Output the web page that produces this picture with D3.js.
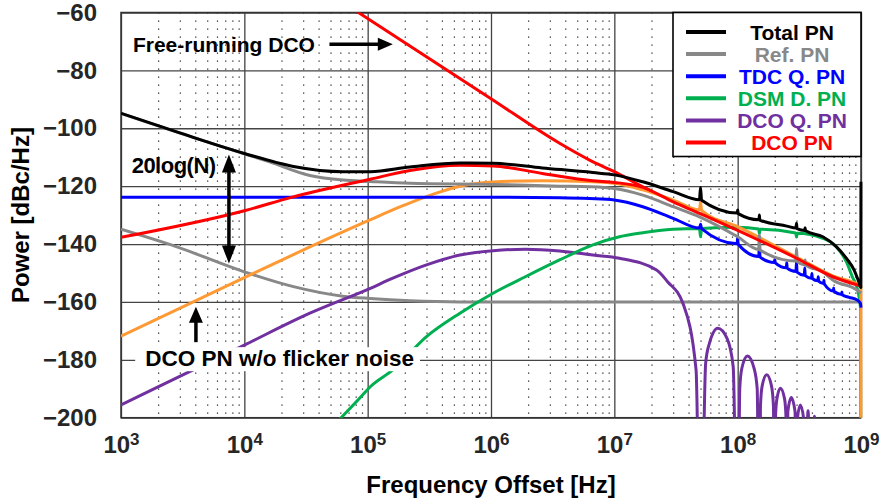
<!DOCTYPE html>
<meta charset="utf-8">
<script src="https://cdn.jsdelivr.net/npm/d3@7"></script>
<style>
  body { margin: 0; background: #fff; }
  text { font-family: "Liberation Sans", Arial, sans-serif; font-weight: bold; }
</style>
<div id="chart"></div>
<script>
// ---- data: [frequency offset Hz, dBc/Hz] ----
var totalPN = [[1e3,-94.8],[3e3,-101.6],[1e4,-108.7],[2.5e4,-113.2],[6.3e4,-115.0],[1.05e5,-115.0],
  [2.2e5,-113.4],[5.6e5,-112.0],[1.04e6,-112.1],[2.6e6,-113.7],[6.7e6,-115.3],[1e7,-116.1],[1.7e7,-118.5],[3e7,-121.9],
  [4.9e7,-124.7],[5e7,-120.5],[5.1e7,-124.9],[9.9e7,-129.3],[1e8,-128.2],[1.01e8,-129.5],[1.49e8,-131.6],[1.5e8,-130.0],
  [1.51e8,-131.7],[2.5e8,-133.8],[2.97e8,-134.5],[3e8,-132.8],[3.03e8,-134.7],[3.5e8,-135.3],[3.52e8,-134.4],[3.55e8,-135.4],
  [4.9e8,-137.5],[6.3e8,-140.9],[7.6e8,-144.9],[8.8e8,-149.0],[9.7e8,-153.6],[9.97e8,-155.0],[9.99e8,-118.5]];

var refPN = [[1e3,-94.9],[3e3,-101.7],[1e4,-108.8],[1.6e4,-111.6],[3.4e4,-116.3],[6.3e4,-117.9],[1.05e5,-118.4],
  [2.2e5,-119.0],[1.04e6,-119.4],[3.6e6,-120.0],[6.3e6,-120.2],[1e7,-120.8],[1.7e7,-123.1],[3e7,-127.1],[4.9e7,-130.6],
  [1e8,-137.5],[1.48e8,-141.9],[1.5e8,-136.9],[1.52e8,-142.1],[2.96e8,-145.9],[3e8,-141.5],[3.04e8,-146.1],[3.5e8,-147.2],
  [3.52e8,-145.5],[3.55e8,-147.3],[4.9e8,-149.6],[5.9e8,-152.4],[9.3e8,-155.9],[1e9,-157.0]];

var refRaw = [[1e3,-134.9],[2.8e3,-140.9],[1e4,-149.6],[2.5e4,-154.7],[6.3e4,-158.0],[1.05e5,-158.8],[2.2e5,-159.6],
  [5.6e5,-160.0],[1e9,-160.0]];

var tdcPN = [[1e3,-123.8],[1e6,-123.8],[3.6e6,-124.0],[6.3e6,-124.3],[1e7,-124.8],[1.7e7,-127.1],[3e7,-131.1],
  [4.9e7,-134.5],[5e7,-133.2],[5.1e7,-134.7],[9.9e7,-139.9],[1e8,-137.7],[1.01e8,-140.1],[1.48e8,-144.3],[1.5e8,-140.9],
  [1.52e8,-144.5],[1.98e8,-146.4],[2e8,-145.3],[2.02e8,-146.5],[2.48e8,-148.2],[2.5e8,-146.5],[2.52e8,-148.3],
  [2.97e8,-149.5],[3e8,-146.1],[3.03e8,-149.7],[3.47e8,-150.8],[3.5e8,-148.3],[3.53e8,-150.9],[3.97e8,-151.8],
  [4e8,-150.2],[4.03e8,-151.9],[4.47e8,-152.7],[4.5e8,-151.3],[4.53e8,-152.8],[4.97e8,-153.6],[5e8,-152.5],[5.03e8,-153.7],
  [5.97e8,-156.2],[6e8,-155.2],[6.03e8,-156.3],[6.97e8,-157.4],[7e8,-156.6],[7.03e8,-157.5],[8e8,-158.4],
  [9.3e8,-159.3],[9.9e8,-160.5],[1e9,-162.0]];

var dsmPN = [[5.5e4,-202],[8.6e4,-193.3],[1.05e5,-189.3],[1.6e5,-183.5],[3e5,-172.0],[5.6e5,-163.9],[1.04e6,-157.0],
  [1.9e6,-151.3],[3.6e6,-145.5],[6.7e6,-140.3],[1.1e7,-137.5],[1.7e7,-136.1],[3e7,-134.9],[4.9e7,-134.6],[5e7,-137.5],
  [5.1e7,-134.6],[1e8,-134.2],[1.48e8,-134.8],[1.5e8,-136.3],[1.52e8,-134.9],[2.96e8,-136.2],[3e8,-137.6],[3.04e8,-136.3],
  [4.9e8,-138.0],[6.3e8,-140.9],[7.6e8,-146.1],[8.5e8,-151.3],[9.4e8,-155.9],[9.9e8,-162.0],[1e9,-260]];

var dcoQPN = [[1e3,-195.6],[1e4,-174.9],[3.4e4,-163.9],[1.05e5,-155.3],[1.6e5,-151.8],[3e5,-147.2],[5.6e5,-143.8],
  [1.04e6,-142.3],[1.9e6,-141.8],[3.6e6,-142.4],[6.7e6,-143.8],[1.1e7,-144.9],[2.2e7,-149.0],[2.7e7,-153.0],
  [3.6e7,-160.5],[4.6e7,-183.5],[5e7,-260],
  [5.5e7,-181.2],[5.9e7,-174.3],[6.9e7,-169.1],[8.2e7,-172.6],[9.2e7,-182.4],[1e8,-260],
  [1.04e8,-190],[1.08e8,-183],[1.2e8,-178.7],[1.36e8,-183],[1.44e8,-190],[1.5e8,-260],
  [1.53e8,-196],[1.58e8,-189],[1.72e8,-185.2],[1.88e8,-189],[1.95e8,-196],[2e8,-260],
  [2.03e8,-199],[2.08e8,-193.5],[2.22e8,-189.8],[2.4e8,-193.5],[2.46e8,-199],[2.5e8,-260],
  [2.55e8,-198],[2.72e8,-193.0],[2.92e8,-198],[3e8,-260],
  [3.05e8,-200.5],[3.22e8,-195.6],[3.43e8,-200.5],[3.5e8,-260],
  [3.72e8,-197.6],[4e8,-260],[4.2e8,-199.5],[4.5e8,-260]];

var dcoNoFlicker = [[1e3,-171.8],[1e4,-151.6],[3.4e4,-141.0],[1e5,-132.0],[2e5,-126.5],[3.5e5,-122.6],[6e5,-119.8],
  [1.04e6,-118.6],[2.6e6,-118.1],[6.7e6,-118.5],[1e7,-119.0],[1.7e7,-121.3],[3e7,-124.8],[4.9e7,-128.2],
  [5e7,-125.5],[5.1e7,-128.4],[1e8,-134.0],[3e8,-144.5],[5.9e8,-151.0],[9.5e8,-154.0],[9.97e8,-154.5],[1e9,-260]];

var dcoPN = [[1e3,-137.7],[1e4,-128.5],[2.45e4,-123.8],[1.05e5,-117.6],[2.2e5,-114.6],[5.6e5,-112.8],[1.04e6,-113.0],
  [2.6e6,-115.6],[6.7e6,-118.1],[1e7,-118.7],[1.7e7,-120.4],[3e7,-125.4],[4.9e7,-129.4],[1e8,-135.3],[3e8,-144.9],
  [5.9e8,-151.3],[1e9,-154.5]];

var freeRunDCO = [[8e4,-59.4],[1e6,-89.8],[3.6e6,-105.2],[6.3e6,-111.0],[1e7,-115.0],[1.7e7,-120.2],[2e7,-121.6]];

var legendNames = ["Total PN", "Ref. PN", "TDC Q. PN", "DSM D. PN", "DCO Q. PN", "DCO PN"];
var legendColors = ["#000000", "#888888", "#0000ff", "#00b050", "#7030a0", "#ff0000"];

var xMajor = [1e3, 1e4, 1e5, 1e6, 1e7, 1e8, 1e9];
var xExp = ["3", "4", "5", "6", "7", "8", "9"];
var yTicks = [-200, -180, -160, -140, -120, -100, -80, -60];

// ---- layout ----
var W = 882, H = 500;
var margin = {top: 12.5, right: 21, bottom: 82.3, left: 121};
var width = W - margin.left - margin.right,
    height = H - margin.top - margin.bottom;

var svg = d3.select("#chart").append("svg")
    .attr("width", W).attr("height", H);
var g = svg.append("g")
    .attr("transform", "translate(" + margin.left + "," + margin.top + ")");

var x = d3.scaleLog().domain([1e3, 1e9]).range([0, width]);
var y = d3.scaleLinear().domain([-200, -60]).range([height, 0]);

// minor vertical grid (dotted)
var xMinor = [];
xMajor.slice(0, -1).forEach(function(d) {
  for (var k = 2; k <= 9; k++) xMinor.push(d * k);
});
g.append("g")
  .call(d3.axisBottom(x).tickValues(xMinor).tickSize(height).tickFormat(""))
  .call(function(s) {
    s.select(".domain").remove();
    s.selectAll("line").attr("stroke", "#222").attr("stroke-width", 1.2).attr("stroke-dasharray", "1.2,6.8");
  });

// major grid
g.append("g")
  .call(d3.axisBottom(x).tickValues(xMajor).tickSize(height).tickFormat(""))
  .call(function(s) {
    s.select(".domain").remove();
    s.selectAll("line").attr("stroke", "#444").attr("stroke-width", 1.3);
  });
g.append("g")
  .call(d3.axisRight(y).tickValues(yTicks).tickSize(width).tickFormat(""))
  .call(function(s) {
    s.select(".domain").remove();
    s.selectAll("line").attr("stroke", "#444").attr("stroke-width", 1.3);
  });

// y tick labels
g.append("g")
  .call(d3.axisLeft(y).tickValues(yTicks).tickSize(0).tickPadding(24))
  .call(function(s) {
    s.select(".domain").remove();
    s.selectAll("text").attr("font-size", 24).attr("fill", "#262626")
      .style("font-family", "'Liberation Sans', Arial, sans-serif").style("font-weight", "bold");
  });

// x tick labels with superscripts
var xAx = g.append("g")
  .attr("transform", "translate(0," + height + ")")
  .call(d3.axisBottom(x).tickValues(xMajor).tickSize(0).tickFormat(""));
xAx.select(".domain").remove();
xAx.selectAll(".tick").append("text")
  .attr("y", 35.5)
  .attr("text-anchor", "middle")
  .attr("fill", "#262626")
  .each(function(d, i) {
    var t = d3.select(this);
    t.append("tspan").attr("font-size", 24).text("10");
    t.append("tspan").attr("font-size", 17).attr("dy", -8.5).text(xExp[i]);
  });

// frame
g.append("rect").attr("width", width).attr("height", height)
  .attr("fill", "none").attr("stroke", "#333").attr("stroke-width", 1.5);

// curves
g.append("clipPath").attr("id", "clip").append("rect")
  .attr("width", width + 2).attr("height", height);

var line = d3.line()
  .x(function(d) { return x(d[0]); })
  .y(function(d) { return y(d[1]); })
  .curve(d3.curveMonotoneX);

var series = [
  {data: refRaw, color: "#888888"},
  {data: dcoQPN, color: "#7030a0"},
  {data: dsmPN, color: "#00b050"},
  {data: dcoNoFlicker, color: "#ff9933"},
  {data: tdcPN, color: "#0000ff"},
  {data: refPN, color: "#888888"},
  {data: dcoPN, color: "#ff0000"},
  {data: freeRunDCO, color: "#ff0000"},
  {data: totalPN, color: "#000000"}
];

g.append("g").attr("clip-path", "url(#clip)")
  .selectAll("path")
  .data(series)
  .enter()
  .append("path")
    .attr("fill", "none")
    .attr("stroke", function(d) { return d.color; })
    .attr("stroke-width", 3)
    .attr("stroke-linejoin", "round")
    .attr("d", function(d) { return line(d.data); });

// annotations
function arrowHead(px, py, dir, len, half) {
  if (dir === "right") return [[px, py], [px - len, py - half], [px - len, py + half]];
  if (dir === "up") return [[px, py], [px - half, py + len], [px + half, py + len]];
  return [[px, py], [px - half, py - len], [px + half, py - len]];
}
function drawHead(pts) {
  g.append("path").attr("d", "M" + pts.join("L") + "Z").attr("fill", "#000");
}

// Free-running DCO
g.append("text").attr("x", x(1.25e3)).attr("y", y(-73.5)).attr("font-size", 21).text("Free-running DCO");
var fy = y(-71);
g.append("line").attr("x1", x(4.9e4)).attr("x2", x(1.3e5)).attr("y1", fy).attr("y2", fy)
  .attr("stroke", "#000").attr("stroke-width", 3.5);
drawHead(arrowHead(x(1.6e5), fy, "right", 15, 6.5));

// 20log(N)
g.append("text").attr("x", x(1.22e3)).attr("y", y(-115.5)).attr("font-size", 22)
  .attr("letter-spacing", -0.5).text("20log(N)");
var ax = x(7.5e3);
g.append("line").attr("x1", ax).attr("x2", ax).attr("y1", y(-113)).attr("y2", y(-142))
  .attr("stroke", "#000").attr("stroke-width", 3.5);
drawHead(arrowHead(ax, y(-109.1), "up", 18, 7));
drawHead(arrowHead(ax, y(-146.7), "down", 18, 7));

// DCO PN w/o flicker noise
var lbl = g.append("text").attr("x", x(1.57e3)).attr("y", y(-182.2)).attr("font-size", 22.5)
  .text("DCO PN w/o flicker noise");
var bb = lbl.node().getBBox();
g.insert("rect", function() { return lbl.node(); })
  .attr("x", bb.x - 10).attr("y", bb.y + 1).attr("width", bb.width + 16).attr("height", bb.height - 1)
  .attr("fill", "#fff");
var fx = x(4.05e3);
g.append("line").attr("x1", fx).attr("x2", fx).attr("y1", y(-164)).attr("y2", y(-173.9))
  .attr("stroke", "#000").attr("stroke-width", 3.5);
drawHead(arrowHead(fx, y(-161.7), "up", 16, 7));

// legend
var lg = g.append("g").attr("transform", "translate(" + (width - 188) + ",0)");
lg.append("rect").attr("width", 188).attr("height", 144)
  .attr("fill", "#fff").attr("stroke", "#000").attr("stroke-width", 1.6);
var rows = lg.selectAll(".row").data(legendNames).enter().append("g")
  .attr("transform", function(d, i) { return "translate(0," + (19.5 + i * 22.1) + ")"; });
rows.append("line").attr("x1", 13).attr("x2", 53)
  .attr("stroke", function(d, i) { return legendColors[i]; }).attr("stroke-width", 4);
rows.append("text").attr("x", 119).attr("y", 7.5).attr("text-anchor", "middle").attr("font-size", 21)
  .attr("fill", function(d, i) { return legendColors[i]; }).text(function(d) { return d; });

// axis titles
svg.append("text").attr("transform", "translate(29," + (margin.top + height / 2) + ") rotate(-90)")
  .attr("text-anchor", "middle").attr("font-size", 24).text("Power [dBc/Hz]");
svg.append("text").attr("x", margin.left + width / 2).attr("y", 493)
  .attr("text-anchor", "middle").attr("font-size", 24).text("Frequency Offset [Hz]");
</script>
